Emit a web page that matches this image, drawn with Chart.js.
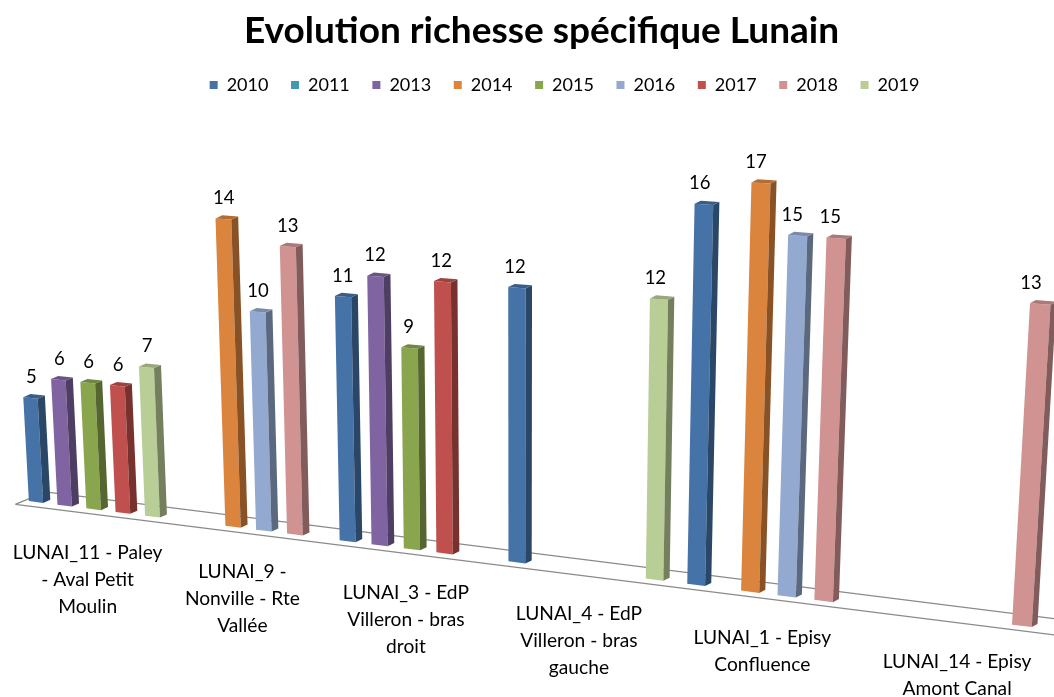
<!DOCTYPE html>
<html>
<head>
<meta charset="utf-8">
<script src="https://cdn.jsdelivr.net/npm/chart.js@4.4.1/dist/chart.umd.min.js"></script>
<style>
html,body{margin:0;padding:0;background:#ffffff;}
#wrap{width:1054px;height:697px;position:relative;}
</style>
</head>
<body>
<div id="wrap"><canvas id="c"></canvas></div>
<script>
// ---------- DATA ----------
const categories = [
  ["LUNAI_11 - Paley", "- Aval Petit", "Moulin"],
  ["LUNAI_9 -", "Nonville - Rte", "Vallée"],
  ["LUNAI_3 - EdP", "Villeron - bras", "droit"],
  ["LUNAI_4 - EdP", "Villeron - bras", "gauche"],
  ["LUNAI_1 - Episy", "Confluence"],
  ["LUNAI_14 - Episy", "Amont Canal"]
];
const years = ["2010", "2011", "2013", "2014", "2015", "2016", "2017", "2018", "2019"];
const v2010 = [5, null, 11, 12, 16, null];
const v2011 = [null, null, null, null, null, null];
const v2013 = [6, null, 12, null, null, null];
const v2014 = [null, 14, null, null, 17, null];
const v2015 = [6, null, 9, null, null, null];
const v2016 = [null, 10, null, null, 15, null];
const v2017 = [6, null, 12, null, null, null];
const v2018 = [null, 13, null, null, 15, 13];
const v2019 = [7, null, null, 12, null, null];
const seriesValues = [v2010, v2011, v2013, v2014, v2015, v2016, v2017, v2018, v2019];
const seriesColors = ["#4572A7", "#4198AF", "#8064A2", "#DB843D", "#89A54E", "#93A9CF", "#C0504D", "#D19392", "#B9CD96"];

// ---------- 3D VIEW (camera) ----------
const CAM = {a: 14.17, b: -1.178, c: 36, d: 0.506, e: -21.73, f: 502, g: -0.002562, h: -0.0022874};
const CAT_PCT = 0.87;
const DEPTH = {dx: 7.2, dy: -3.1};
function project(s, v) {
  const w = 1 + CAM.g * s + CAM.h * v;
  return [(CAM.a * s + CAM.b * v + CAM.c) / w, (CAM.d * s + CAM.e * v + CAM.f) / w];
}
function shade(hex, k) {
  const n = parseInt(hex.slice(1), 16);
  const r = Math.round(((n >> 16) & 255) * k), g = Math.round(((n >> 8) & 255) * k), b = Math.round((n & 255) * k);
  return "rgb(" + Math.min(255, r) + "," + Math.min(255, g) + "," + Math.min(255, b) + ")";
}
function poly(ctx, pts, fill) {
  ctx.beginPath();
  ctx.moveTo(pts[0][0], pts[0][1]);
  for (let i = 1; i < pts.length; i++) ctx.lineTo(pts[i][0], pts[i][1]);
  ctx.closePath();
  ctx.fillStyle = fill;
  ctx.fill();
}

const perspective = {
  id: "perspective",
  beforeDatasetsDraw(chart) {
    const ctx = chart.ctx, xs = chart.scales.x, ys = chart.scales.y;
    const N = chart.data.labels.length, nDs = chart.data.datasets.length;
    const P = nDs / CAT_PCT;
    const toS = px => (px - xs.left) / xs.width * N * P - (0.5 * P - (nDs - 1) / 2);
    const v0 = 0;
    ctx.save();
    // floor
    const sL = toS(xs.left), sR = toS(xs.right);
    const A = project(sL, v0), B = project(sR, v0);
    ctx.strokeStyle = "#8a8a8a";
    ctx.lineWidth = 1.3;
    ctx.beginPath();
    ctx.moveTo(A[0] - 4, A[1] + 4.5);
    ctx.lineTo(B[0] - 4, B[1] + 4.5);
    ctx.moveTo(A[0] - 4, A[1] + 4.5);
    ctx.lineTo(A[0] + 26, A[1] - 8);
    ctx.lineTo(B[0] + 26, B[1] - 8);
    ctx.stroke();

    // bars
    const bars = [];
    chart.data.datasets.forEach((ds, di) => {
      const meta = chart.getDatasetMeta(di);
      meta.data.forEach((el, i) => {
        if (ds.data[i] == null) return;
        bars.push({el, color: ds.backgroundColor, s: toS(el.x)});
      });
    });
    bars.sort((p, q) => p.s - q.s);
    const labels = [];
    bars.forEach(b => {
      const el = b.el;
      const hw = el.width / xs.width * N * P / 2;
      const vTop = ys.getValueForPixel(el.y), vBase = ys.getValueForPixel(el.base);
      const BL = project(b.s - hw, vBase), BR = project(b.s + hw, vBase);
      const TL = project(b.s - hw, vTop), TR = project(b.s + hw, vTop);
      const u = (el.x - xs.left) / xs.width;
      const dx = DEPTH.dx - 1.5 * u, dy = DEPTH.dy;
      const d = p => [p[0] + dx, p[1] + dy];
      poly(ctx, [BL, BR, TR, TL], b.color);
      poly(ctx, [BR, d(BR), d(TR), TR], shade(b.color, 0.62));
      poly(ctx, [TL, TR, d(TR), d(TL)], shade(b.color, 0.82));
      const top = project(b.s, vTop);
      labels.push([top[0] + 1 - 11 * u * u, top[1] - 21, String(Math.round(vTop))]);
    });
    ctx.fillStyle = "#000";
    ctx.font = "18.5px Lato";
    ctx.textAlign = "center";
    ctx.textBaseline = "middle";
    labels.forEach(l => ctx.fillText(l[2], l[0], l[1]));

    // category labels
    ctx.font = "19.2px Lato";
    ctx.textBaseline = "alphabetic";
    chart.data.labels.forEach((lines, i) => {
      const s = toS(xs.getPixelForValue(i));
      const p = project(s, v0);
      lines.forEach((t, k) => ctx.fillText(t, p[0] - 6, p[1] + 49.5 + 27 * k));
    });
    ctx.restore();
    return false;
  }
};

new Chart(document.getElementById("c"), {
  type: "bar",
  data: {
    labels: categories,
    datasets: years.map((y, i) => ({
      label: y,
      data: seriesValues[i],
      backgroundColor: seriesColors[i],
      borderWidth: 0,
      categoryPercentage: CAT_PCT,
      barPercentage: 1.0
    }))
  },
  options: {
    responsive: true,
    maintainAspectRatio: false,
    animation: false,
    events: [],
    layout: {padding: {left: 29, right: 0, bottom: 10}},
    scales: {
      x: {display: false},
      y: {
        display: true, min: 0, max: 18,
        grid: {display: false}, border: {display: false},
        ticks: {display: false},
        afterFit: s => { s.width = 46; }
      }
    },
    plugins: {
      title: {
        display: true,
        text: "Evolution richesse spécifique Lunain",
        color: "#000",
        font: {family: "Lato", size: 37, weight: "bold"},
        padding: {top: 9, bottom: 0}
      },
      legend: {
        position: "top",
        fullSize: false,
        labels: {
          color: "#000",
          boxWidth: 8,
          boxHeight: 8,
          padding: 22.6,
          font: {family: "Lato", size: 18}
        }
      },
      tooltip: {enabled: false}
    }
  },
  plugins: [perspective]
});
</script>
</body>
</html>
